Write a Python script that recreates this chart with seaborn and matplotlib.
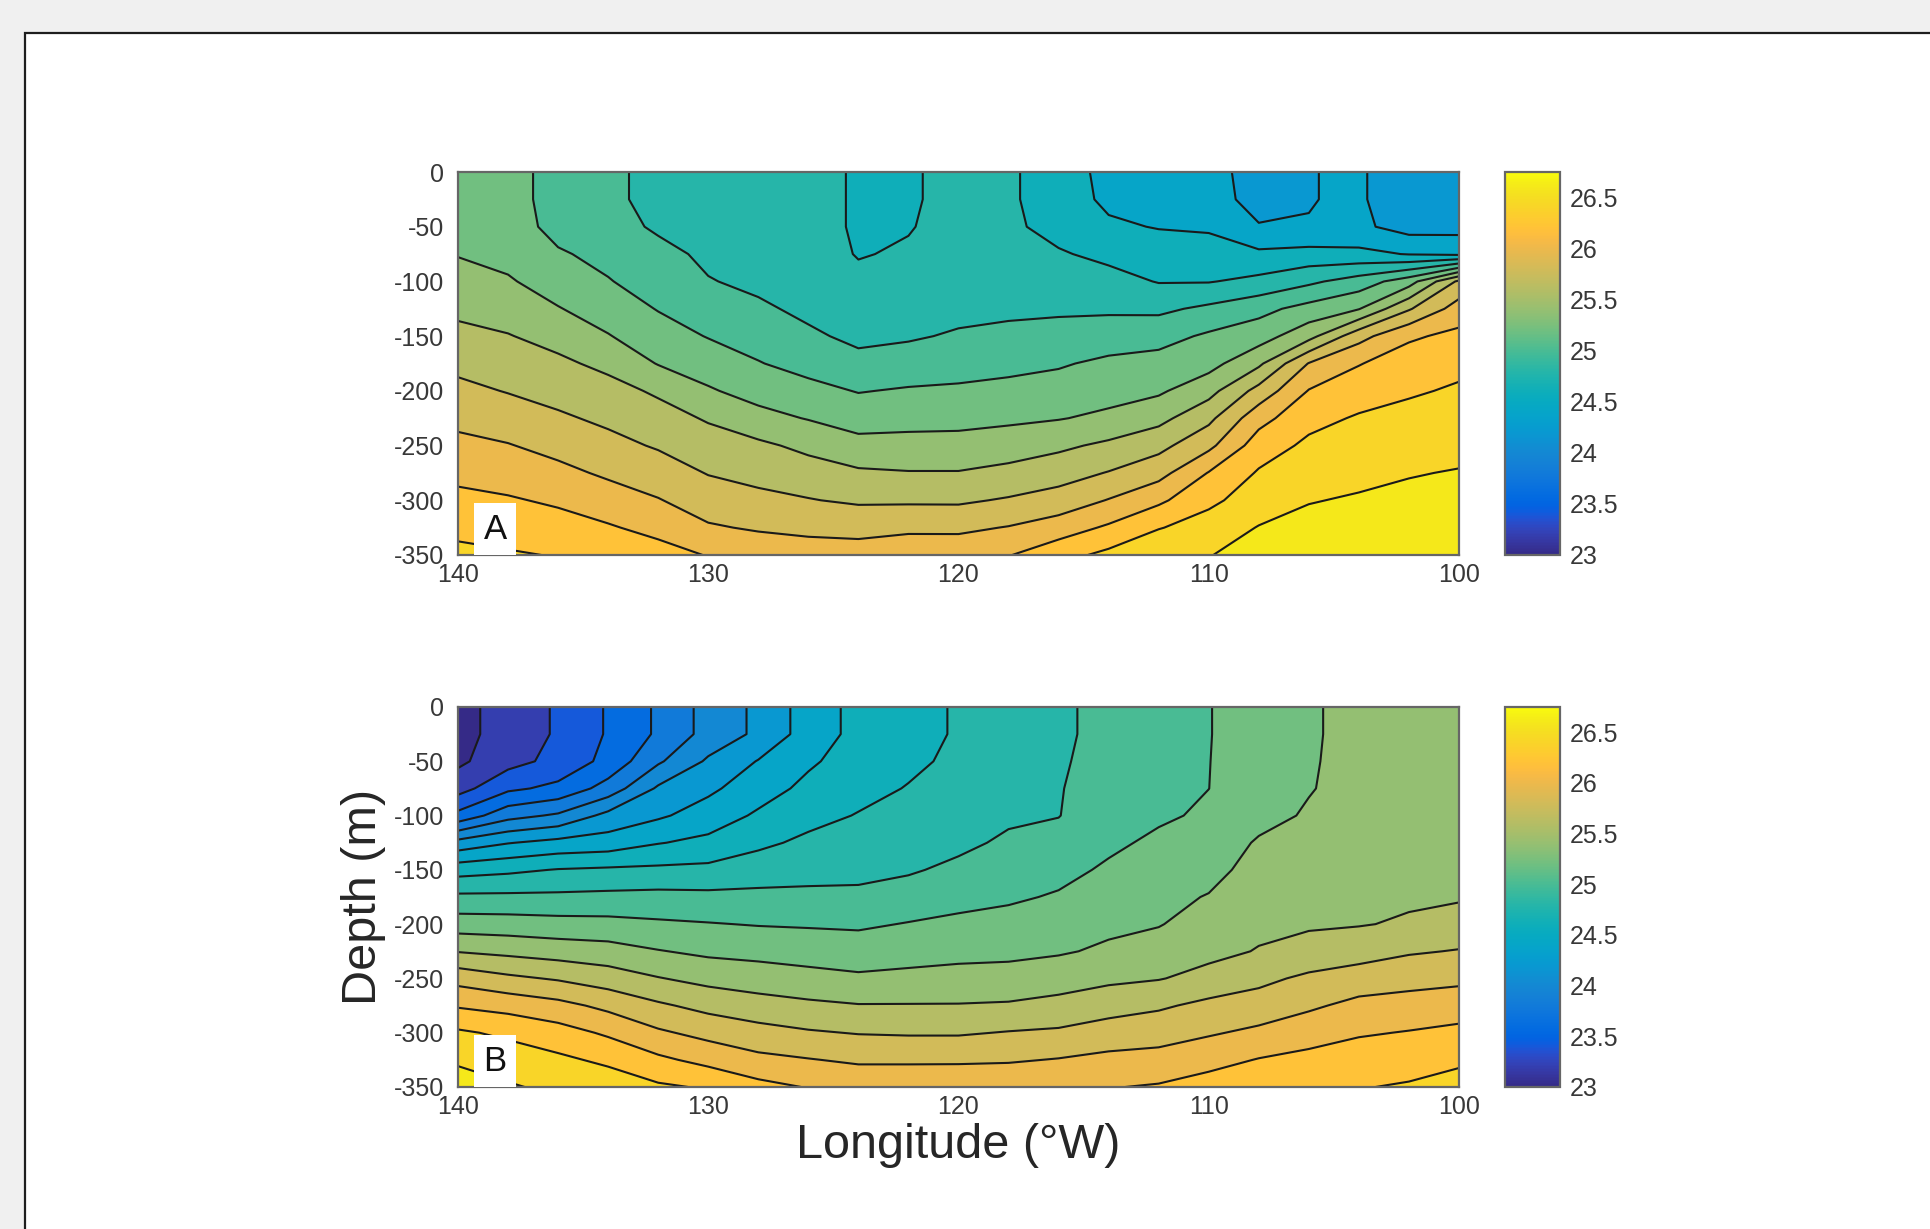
import numpy as np
import matplotlib
matplotlib.use("Agg")
import matplotlib.pyplot as plt
import seaborn as sns
from matplotlib.colors import LinearSegmentedColormap, Normalize
from matplotlib.patches import Rectangle
from matplotlib.cm import ScalarMappable

# ---------------- data ----------------
lon = [140, 138, 136, 134, 132, 130, 128, 126, 124, 122, 120,
       118, 116, 114, 112, 110, 108, 106, 104, 102, 100]
depth = [0, -25, -50, -75, -100, -125, -150, -175, -200, -225, -250,
         -275, -300, -325, -350]

levels = [23.0, 23.2, 23.4, 23.6, 23.8, 24.0, 24.2, 24.4, 24.6, 24.8,
          25.0, 25.2, 25.4, 25.6, 25.8, 26.0, 26.2, 26.4, 26.6, 26.8]
cbar_ticks = [23, 23.5, 24, 24.5, 25, 25.5, 26, 26.5]
x_ticks = [140, 130, 120, 110, 100]
y_ticks = [0, -50, -100, -150, -200, -250, -300, -350]

# panel A: one temperature profile (0..-350 m) per longitude
temp_a = [
    [25.32, 25.32, 25.34, 25.39, 25.48, 25.56, 25.65, 25.75, 25.85, 25.95, 26.05, 26.15, 26.25, 26.35, 26.45],
    [25.28, 25.28, 25.29, 25.34, 25.42, 25.51, 25.61, 25.69, 25.79, 25.90, 26.01, 26.11, 26.22, 26.32, 26.42],
    [25.12, 25.12, 25.14, 25.22, 25.31, 25.41, 25.53, 25.64, 25.73, 25.83, 25.94, 26.05, 26.17, 26.28, 26.39],
    [25.05, 25.05, 25.08, 25.15, 25.21, 25.31, 25.41, 25.55, 25.67, 25.76, 25.86, 25.97, 26.09, 26.22, 26.33],
    [24.93, 24.93, 24.97, 25.06, 25.12, 25.19, 25.29, 25.39, 25.57, 25.68, 25.78, 25.90, 26.01, 26.14, 26.28],
    [24.90, 24.90, 24.92, 24.96, 25.01, 25.10, 25.19, 25.31, 25.42, 25.58, 25.69, 25.79, 25.91, 26.02, 26.19],
    [24.88, 24.88, 24.89, 24.92, 24.96, 25.03, 25.12, 25.21, 25.33, 25.46, 25.64, 25.74, 25.85, 25.98, 26.12],
    [24.86, 24.86, 24.86, 24.88, 24.92, 24.96, 25.03, 25.13, 25.26, 25.39, 25.55, 25.69, 25.81, 25.96, 26.08],
    [24.78, 24.78, 24.78, 24.79, 24.84, 24.90, 24.96, 25.05, 25.19, 25.32, 25.46, 25.63, 25.77, 25.95, 26.07],
    [24.78, 24.78, 24.79, 24.82, 24.86, 24.92, 24.98, 25.08, 25.22, 25.33, 25.47, 25.61, 25.77, 25.97, 26.10],
    [24.85, 24.85, 24.86, 24.88, 24.91, 24.95, 25.02, 25.12, 25.23, 25.34, 25.47, 25.61, 25.77, 25.96, 26.13],
    [24.83, 24.83, 24.84, 24.87, 24.91, 24.96, 25.05, 25.15, 25.25, 25.36, 25.51, 25.65, 25.82, 26.01, 26.19],
    [24.70, 24.70, 24.73, 24.82, 24.89, 24.97, 25.07, 25.18, 25.28, 25.39, 25.56, 25.72, 25.88, 26.10, 26.33],
    [24.54, 24.56, 24.63, 24.75, 24.87, 24.97, 25.10, 25.24, 25.33, 25.44, 25.64, 25.81, 26.01, 26.23, 26.45],
    [24.50, 24.51, 24.59, 24.70, 24.79, 24.96, 25.13, 25.27, 25.37, 25.54, 25.74, 25.93, 26.16, 26.39, 26.56],
    [24.46, 24.47, 24.57, 24.70, 24.79, 25.04, 25.23, 25.33, 25.53, 25.75, 25.95, 26.21, 26.36, 26.48, 26.59],
    [24.33, 24.34, 24.41, 24.64, 24.85, 25.14, 25.31, 25.56, 25.87, 26.13, 26.30, 26.42, 26.49, 26.61, 26.70],
    [24.395, 24.395, 24.405, 24.67, 24.96, 25.27, 25.53, 26.01, 26.21, 26.34, 26.44, 26.52, 26.59, 26.66, 26.72],
    [24.42, 24.42, 24.44, 24.65, 25.09, 25.39, 25.93, 26.19, 26.31, 26.42, 26.49, 26.55, 26.62, 26.67, 26.72],
    [24.30, 24.30, 24.32, 24.59, 25.31, 25.78, 26.17, 26.30, 26.38, 26.45, 26.51, 26.59, 26.64, 26.68, 26.72],
    [24.30, 24.30, 24.33, 24.56, 25.84, 26.09, 26.25, 26.36, 26.42, 26.49, 26.55, 26.61, 26.65, 26.69, 26.73],
]

# panel B: one temperature profile (0..-350 m) per longitude
temp_b = [
    [23.12, 23.12, 23.16, 23.32, 23.66, 24.27, 24.72, 25.04, 25.30, 25.59, 25.93, 26.18, 26.43, 26.57, 26.70],
    [23.30, 23.30, 23.33, 23.56, 23.93, 24.39, 24.76, 25.04, 25.29, 25.55, 25.84, 26.13, 26.36, 26.51, 26.62],
    [23.42, 23.42, 23.46, 23.65, 24.03, 24.46, 24.81, 25.04, 25.27, 25.51, 25.78, 26.06, 26.28, 26.44, 26.56],
    [23.62, 23.62, 23.66, 23.88, 24.26, 24.49, 24.83, 25.05, 25.26, 25.48, 25.70, 25.95, 26.17, 26.36, 26.52],
    [23.83, 23.83, 23.97, 24.23, 24.37, 24.59, 24.84, 25.06, 25.23, 25.41, 25.61, 25.83, 26.03, 26.24, 26.43],
    [24.07, 24.07, 24.23, 24.36, 24.49, 24.65, 24.85, 25.05, 25.21, 25.36, 25.54, 25.74, 25.94, 26.14, 26.38],
    [24.24, 24.24, 24.41, 24.51, 24.63, 24.76, 24.90, 25.05, 25.19, 25.34, 25.50, 25.68, 25.87, 26.05, 26.26],
    [24.49, 24.49, 24.57, 24.65, 24.74, 24.84, 24.94, 25.04, 25.18, 25.32, 25.46, 25.64, 25.82, 26.01, 26.19],
    [24.66, 24.66, 24.69, 24.74, 24.81, 24.88, 24.95, 25.04, 25.17, 25.30, 25.43, 25.61, 25.79, 25.97, 26.15],
    [24.73, 24.73, 24.76, 24.81, 24.87, 24.93, 24.98, 25.08, 25.21, 25.32, 25.45, 25.61, 25.78, 25.97, 26.15],
    [24.82, 24.82, 24.84, 24.88, 24.92, 24.96, 25.04, 25.14, 25.24, 25.34, 25.47, 25.61, 25.78, 25.97, 26.16],
    [24.88, 24.88, 24.90, 24.94, 24.97, 25.03, 25.11, 25.17, 25.27, 25.35, 25.48, 25.62, 25.81, 25.98, 26.16],
    [24.97, 24.97, 24.98, 24.99, 24.995, 25.06, 25.14, 25.22, 25.30, 25.38, 25.51, 25.66, 25.83, 26.01, 26.18],
    [25.05, 25.05, 25.06, 25.08, 25.11, 25.16, 25.23, 25.30, 25.36, 25.43, 25.56, 25.72, 25.89, 26.05, 26.19],
    [25.11, 25.11, 25.12, 25.14, 25.17, 25.24, 25.30, 25.35, 25.39, 25.48, 25.59, 25.77, 25.93, 26.06, 26.22],
    [25.195, 25.195, 25.197, 25.199, 25.23, 25.29, 25.34, 25.41, 25.48, 25.55, 25.66, 25.85, 25.98, 26.13, 26.29],
    [25.27, 25.27, 25.28, 25.30, 25.34, 25.42, 25.47, 25.52, 25.56, 25.61, 25.75, 25.89, 26.04, 26.21, 26.36],
    [25.38, 25.38, 25.385, 25.39, 25.42, 25.47, 25.51, 25.55, 25.58, 25.66, 25.84, 25.97, 26.11, 26.26, 26.37],
    [25.45, 25.45, 25.45, 25.46, 25.48, 25.51, 25.54, 25.57, 25.59, 25.71, 25.90, 26.05, 26.18, 26.30, 26.39],
    [25.48, 25.48, 25.48, 25.49, 25.51, 25.53, 25.55, 25.575, 25.62, 25.78, 25.93, 26.08, 26.21, 26.32, 26.42],
    [25.50, 25.50, 25.50, 25.51, 25.52, 25.54, 25.56, 25.58, 25.68, 25.81, 25.96, 26.10, 26.25, 26.37, 26.47],
]

panel_labels = ["A", "B"]
x_label = "Longitude (\u00b0W)"
y_label = "Depth (m)"

# ---------------- style ----------------
sns.set_theme(style="white")
plt.rcParams["font.family"] = ["Liberation Sans", "DejaVu Sans"]
plt.rcParams["axes.unicode_minus"] = False

parula_rgb = [
    (0.2081, 0.1663, 0.5292), (0.2116, 0.1898, 0.5777), (0.2123, 0.2138, 0.6270),
    (0.2081, 0.2386, 0.6771), (0.1959, 0.2645, 0.7279), (0.1707, 0.2919, 0.7792),
    (0.1253, 0.3242, 0.8303), (0.0591, 0.3598, 0.8683), (0.0117, 0.3875, 0.8820),
    (0.0060, 0.4086, 0.8828), (0.0165, 0.4266, 0.8786), (0.0329, 0.4430, 0.8720),
    (0.0498, 0.4586, 0.8641), (0.0629, 0.4737, 0.8554), (0.0723, 0.4887, 0.8467),
    (0.0779, 0.5040, 0.8384), (0.0793, 0.5200, 0.8312), (0.0749, 0.5375, 0.8263),
    (0.0641, 0.5570, 0.8240), (0.0488, 0.5772, 0.8228), (0.0343, 0.5966, 0.8199),
    (0.0265, 0.6137, 0.8135), (0.0239, 0.6287, 0.8038), (0.0231, 0.6418, 0.7913),
    (0.0228, 0.6535, 0.7768), (0.0267, 0.6642, 0.7607), (0.0384, 0.6743, 0.7436),
    (0.0590, 0.6838, 0.7254), (0.0843, 0.6928, 0.7062), (0.1133, 0.7015, 0.6859),
    (0.1453, 0.7098, 0.6646), (0.1801, 0.7177, 0.6424), (0.2178, 0.7250, 0.6193),
    (0.2586, 0.7317, 0.5954), (0.3022, 0.7376, 0.5712), (0.3482, 0.7424, 0.5473),
    (0.3953, 0.7459, 0.5244), (0.4420, 0.7481, 0.5033), (0.4871, 0.7491, 0.4840),
    (0.5300, 0.7491, 0.4661), (0.5709, 0.7485, 0.4494), (0.6099, 0.7473, 0.4337),
    (0.6473, 0.7456, 0.4188), (0.6834, 0.7435, 0.4044), (0.7184, 0.7411, 0.3905),
    (0.7525, 0.7384, 0.3768), (0.7858, 0.7356, 0.3633), (0.8185, 0.7327, 0.3498),
    (0.8507, 0.7299, 0.3360), (0.8824, 0.7274, 0.3217), (0.9139, 0.7258, 0.3063),
    (0.9450, 0.7261, 0.2886), (0.9739, 0.7314, 0.2666), (0.9938, 0.7455, 0.2403),
    (0.9990, 0.7653, 0.2164), (0.9955, 0.7861, 0.1967), (0.9880, 0.8066, 0.1794),
    (0.9789, 0.8271, 0.1633), (0.9697, 0.8481, 0.1475), (0.9626, 0.8705, 0.1309),
    (0.9589, 0.8949, 0.1132), (0.9598, 0.9218, 0.0948), (0.9661, 0.9514, 0.0755),
    (0.9763, 0.9831, 0.0538),
]
parula = LinearSegmentedColormap.from_list("parula", parula_rgb, N=256)

cmin, cmax = 23.0, 26.75
half_step = 0.1
# MATLAB colours each filled band with its lower level; matplotlib uses the
# band midpoint, so shift the fill norm by half a level step.
fill_norm = Normalize(cmin + half_step, cmax + half_step)
bar_norm = Normalize(cmin, cmax)

W, H = 1930, 1229
fig = plt.figure(figsize=(W / 100, H / 100), dpi=100, facecolor="#f0f0f0")
fig.patches.append(Rectangle((25 / W, -0.1), 1.2, (H - 33) / H + 0.1,
                             transform=fig.transFigure, facecolor="white",
                             edgecolor="#1e1e1e", linewidth=1.6, zorder=-10))

ax_left, ax_w = 458 / W, 1001 / W
ax_a = fig.add_axes([ax_left, 1 - 555 / H, ax_w, 383 / H])
ax_b = fig.add_axes([ax_left, 1 - 1087 / H, ax_w, 380 / H])
cax_a = fig.add_axes([1505 / W, 1 - 555 / H, 55 / W, 383 / H])
cax_b = fig.add_axes([1505 / W, 1 - 1087 / H, 55 / W, 380 / H])

X = np.array(lon)
Y = np.array(depth)
tick_col = "#383838"
spine_col = "#666666"
tick_size = 18

for ax, cax, data, lab in [(ax_a, cax_a, temp_a, panel_labels[0]),
                           (ax_b, cax_b, temp_b, panel_labels[1])]:
    Z = np.array(data).T
    ax.contourf(X, Y, Z, levels=levels, cmap=parula, norm=fill_norm)
    ax.contour(X, Y, Z, levels=levels, colors="k", linewidths=1.5)
    ax.set_xlim(140, 100)
    ax.set_ylim(-350, 0)
    ax.set_xticks(x_ticks)
    ax.set_yticks(y_ticks)
    ax.set_xticklabels([str(v) for v in x_ticks])
    ax.set_yticklabels([str(v) for v in y_ticks])
    ax.tick_params(direction="in", top=True, right=True, length=7, width=1.2,
                   color="#262626", labelcolor=tick_col, labelsize=tick_size)
    ax.tick_params(axis="x", pad=6)
    ax.tick_params(axis="y", pad=10)
    for s in ax.spines.values():
        s.set_color(spine_col)
        s.set_linewidth(1.6)
    ax.add_patch(Rectangle((0.016, 0.0), 0.042, 0.136, transform=ax.transAxes,
                           facecolor="white", edgecolor="none", zorder=5))
    ax.text(0.037, 0.066, lab, transform=ax.transAxes, ha="center", va="center",
            fontsize=25, color="#111111", zorder=6)

    sm = ScalarMappable(norm=bar_norm, cmap=parula)
    cb = fig.colorbar(sm, cax=cax)
    cb.set_ticks(cbar_ticks)
    cb.set_ticklabels(["%g" % t for t in cbar_ticks])
    cb.ax.tick_params(direction="in", length=5, width=1.2, color="#262626",
                      labelcolor=tick_col, labelsize=tick_size, pad=7)
    cb.outline.set_edgecolor(spine_col)
    cb.outline.set_linewidth(1.6)

ax_b.set_xlabel(x_label, fontsize=35, color="#262626")
ax_b.xaxis.set_label_coords(0.5, -0.095)
ax_b.set_ylabel(y_label, fontsize=35, color="#262626")
ax_b.yaxis.set_label_coords(-0.072, 0.5)

fig.savefig("out.png", dpi=100, facecolor=fig.get_facecolor())
